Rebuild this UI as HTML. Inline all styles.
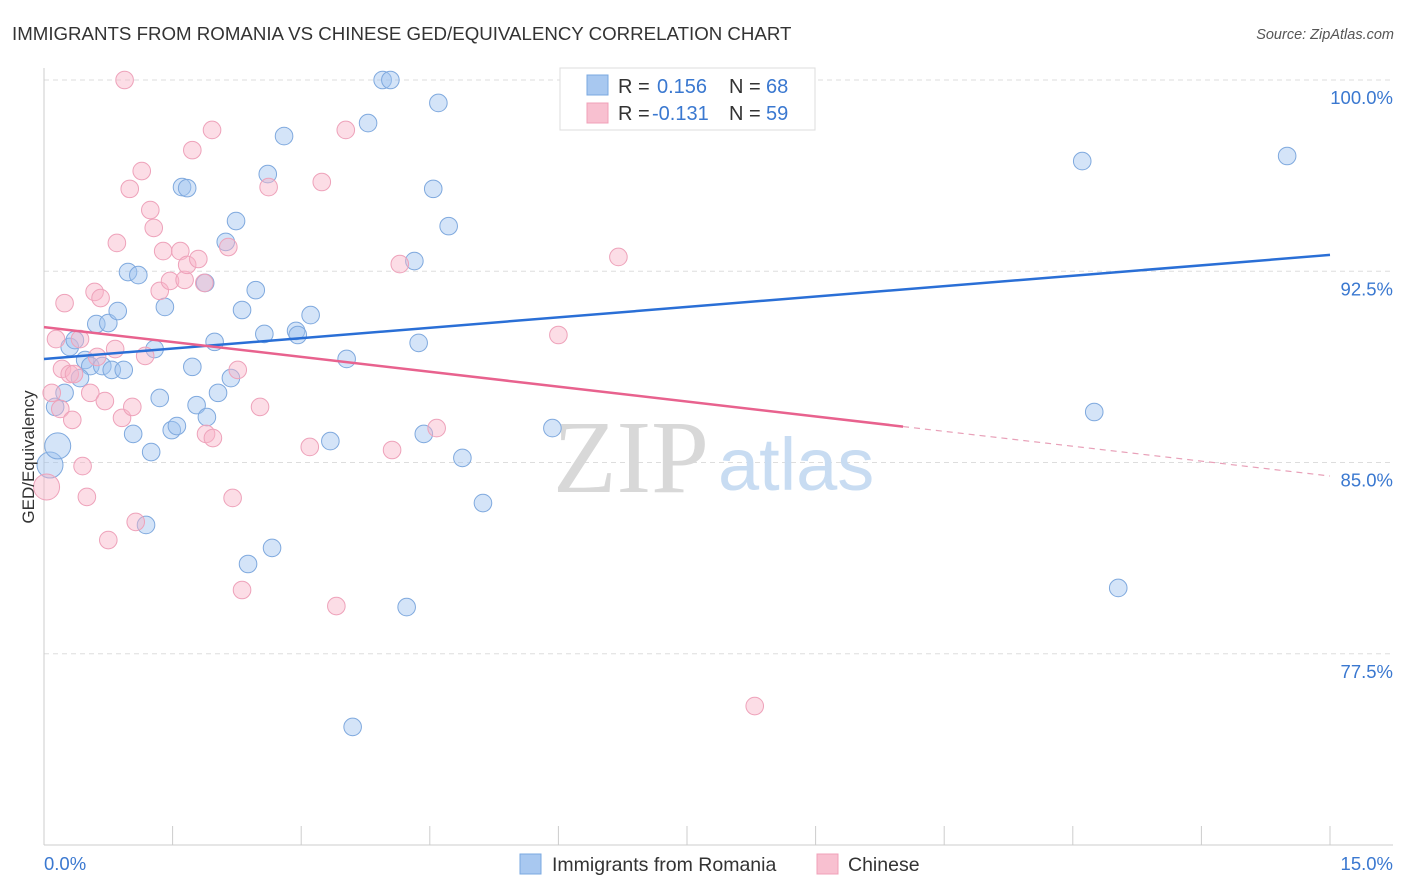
<!DOCTYPE html>
<html><head><meta charset="utf-8"><style>
body{margin:0;background:#fff;font-family:"Liberation Sans",sans-serif;}
svg{display:block}
</style></head><body>
<svg id="chart" width="1406" height="892" xmlns="http://www.w3.org/2000/svg">
<text x="12" y="40" font-size="18.7" fill="#333" font-family="Liberation Sans">IMMIGRANTS FROM ROMANIA VS CHINESE GED/EQUIVALENCY CORRELATION CHART</text>
<text x="1394" y="39" font-size="14.5" fill="#555" text-anchor="end" font-style="italic">Source: ZipAtlas.com</text>
<g id="grid"></g>
<text x="553" y="492" font-size="104" fill="#d8d8d8" font-family="Liberation Serif">ZIP</text>
<text x="718" y="490" font-size="74" fill="#c8dcf2">atlas</text>
<g id="marks"></g>
<text transform="translate(34,457) rotate(-90)" font-size="17" fill="#333" text-anchor="middle">GED/Equivalency</text>
<g>
<rect x="560" y="68" width="255" height="62" fill="#fff" stroke="#ddd"/>
<rect x="587" y="75" width="21" height="20" fill="#a8c8f0" stroke="#7aa8e0"/>
<rect x="587" y="103" width="21" height="20" fill="#f8c0d0" stroke="#f0a0b8"/>
<text x="618" y="93" font-size="20" fill="#333">R =</text>
<text x="657" y="93" font-size="20" fill="#3a78d0">0.156</text>
<text x="729" y="93" font-size="20" fill="#333">N =</text>
<text x="766" y="93" font-size="20" fill="#3a78d0">68</text>
<text x="618" y="120" font-size="20" fill="#333">R =</text>
<text x="652" y="120" font-size="20" fill="#3a78d0">-0.131</text>
<text x="729" y="120" font-size="20" fill="#333">N =</text>
<text x="766" y="120" font-size="20" fill="#3a78d0">59</text>
</g>
<g>
<rect x="520" y="854" width="21" height="20" fill="#a8c8f0" stroke="#7aa8e0"/>
<text x="552" y="871" font-size="19.5" fill="#333">Immigrants from Romania</text>
<rect x="817" y="854" width="21" height="20" fill="#f8c0d0" stroke="#f0a0b8"/>
<text x="848" y="871" font-size="19.5" fill="#333">Chinese</text>
</g>
</svg>
<script>
const xTicks=[0,1.5,3,4.5,6,7.5,9,10.5,12,13.5,15];
const yTicks=[100,92.5,85,77.5];
const yTickLabels=["100.0%","92.5%","85.0%","77.5%"];
const xLabels=["0.0%","15.0%"];
const romaniaX=[0.07,0.16,0.13,0.24,0.30,0.36,0.48,0.54,0.61,0.68,0.75,0.79,0.86,0.93,0.98,1.10,0.42,1.04,1.19,1.25,1.29,1.35,1.41,1.49,1.55,1.61,1.67,1.73,1.78,1.88,1.90,1.99,2.03,2.12,2.18,2.24,2.31,2.38,2.47,2.57,2.61,2.66,2.80,2.94,2.96,3.11,3.34,3.53,3.60,3.78,3.95,4.04,4.23,4.32,4.37,4.43,4.54,4.60,4.72,4.88,5.12,5.93,6.37,12.11,12.25,12.53,14.50];
const romaniaY=[84.90,85.65,87.18,87.73,89.53,89.80,89.02,88.78,90.43,88.78,90.47,88.63,90.94,88.63,92.47,92.35,88.31,86.12,82.55,85.41,89.45,87.53,91.10,86.27,86.43,95.80,95.76,88.75,87.25,92.04,86.78,89.73,87.73,93.65,88.31,94.47,90.98,81.02,91.76,90.04,96.31,81.65,97.80,90.16,90.00,90.78,85.84,89.06,74.63,98.31,100,100,79.33,92.90,89.69,86.12,95.73,99.10,94.27,85.18,83.41,86.35,100,96.82,86.98,80.08,97.02];
const chineseX=[0.03,0.09,0.14,0.19,0.21,0.24,0.30,0.33,0.35,0.42,0.45,0.50,0.54,0.59,0.62,0.66,0.71,0.75,0.83,0.85,0.91,0.94,1.00,1.03,1.07,1.14,1.18,1.24,1.28,1.35,1.39,1.47,1.59,1.64,1.67,1.73,1.80,1.87,1.89,1.96,1.97,2.15,2.20,2.26,2.31,2.52,2.62,3.10,3.24,3.41,3.52,4.06,4.15,4.58,6.00,6.55,6.70,8.29];
const chineseY=[84.04,87.73,89.84,87.10,88.67,91.25,88.47,86.67,88.47,89.84,84.86,83.65,87.73,91.69,89.14,91.45,87.41,81.96,89.45,93.61,86.75,100,95.73,87.18,82.67,96.43,89.18,94.90,94.20,91.73,93.29,92.12,93.29,92.16,92.75,97.25,92.98,92.04,86.12,98.04,85.96,93.45,83.61,88.63,80.00,87.18,95.80,85.61,96.00,79.37,98.04,85.49,92.78,86.35,90.00,98.63,93.06,75.45];
const romaniaTrend=[89.06,93.14];
const chineseTrend=[90.31,84.47];
const chineseSolidEnd=10.02;
const NS="http://www.w3.org/2000/svg";
const X=v=>44+v/15*1286;
const Y=v=>80+(100-v)*25.5;
function mk(tag,attrs,parent){const e=document.createElementNS(NS,tag);for(const k in attrs)e.setAttribute(k,attrs[k]);parent.appendChild(e);return e;}
const grid=document.getElementById('grid'),marks=document.getElementById('marks');
yTicks.forEach((t,i)=>{
 const l=mk('line',{x1:44,x2:1393,y1:Y(t),y2:Y(t),stroke:'#ddd','stroke-dasharray':'5,4'},grid);
 
 
 const tx=mk('text',{x:1393,y:Y(t)+24,'font-size':18.5,fill:'#3a78d0','text-anchor':'end'},grid);
 tx.textContent=yTickLabels[i];
 
 
});
const ya=mk('line',{x1:44,x2:44,y1:68,y2:845,stroke:'#ccc'},grid);


const xa=mk('line',{x1:44,x2:1393,y1:845,y2:845,stroke:'#ccc'},grid);


xTicks.forEach(t=>{
 const l=mk('line',{x1:X(t),x2:X(t),y1:826,y2:845,stroke:'#ccc'},grid);
 
 
});
[[0,'start',44],[15,'end',1393]].forEach((d,i)=>{
 const tx=mk('text',{x:d[2],y:870,'font-size':18.5,fill:'#3a78d0','text-anchor':d[1]},grid);
 tx.textContent=xLabels[i];
 
 
});
romaniaX.forEach((x,i)=>{
 const c=mk('circle',{cx:X(x),cy:Y(romaniaY[i]),r:i<2?13:8.8,fill:'rgba(160,196,240,0.45)',stroke:'#7fa9de','stroke-width':1},marks);
 
 
});
chineseX.forEach((x,i)=>{
 const c=mk('circle',{cx:X(x),cy:Y(chineseY[i]),r:i<1?13:8.8,fill:'rgba(248,180,200,0.45)',stroke:'#eea2ba','stroke-width':1},marks);
 
 
});
const bl=mk('line',{x1:X(0),y1:Y(romaniaTrend[0]),x2:X(15),y2:Y(romaniaTrend[1]),stroke:'#2a6fd6','stroke-width':2.5},marks);


const ce=chineseTrend[0]+(chineseTrend[1]-chineseTrend[0])*chineseSolidEnd/15;
const pl=mk('line',{x1:X(0),y1:Y(chineseTrend[0]),x2:X(chineseSolidEnd),y2:Y(ce),stroke:'#e8628e','stroke-width':2.5},marks);


const pd=mk('line',{x1:X(chineseSolidEnd),y1:Y(ce),x2:X(15),y2:Y(chineseTrend[1]),stroke:'#e8a0b8','stroke-width':1.2,'stroke-dasharray':'6,5'},marks);


</script>
</body></html>
